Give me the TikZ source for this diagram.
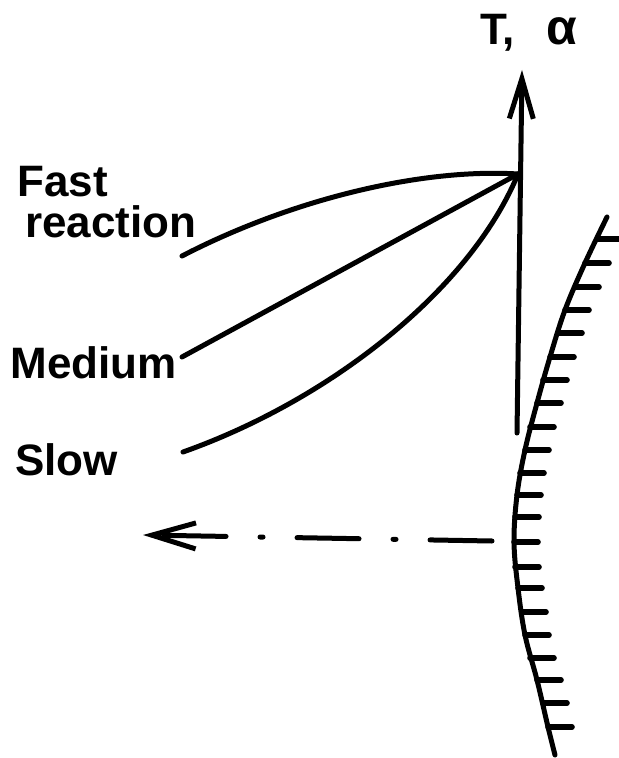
\documentclass[tikz,border=0pt]{standalone}
\usepackage{fontspec}
\setmainfont{Liberation Sans}
\usetikzlibrary{arrows.meta}

\begin{document}
\begin{tikzpicture}[
    x=0.5pt, y=-0.5pt,
    curve/.style={line width=2.5pt, line cap=round},
    lbl/.style={font=\fontsize{22}{20.5}\selectfont\bfseries, inner sep=0pt, anchor=base west, align=left},
    hatch/.style={line width=2.8pt, line cap=round},
    >={Straight Barb[length=20pt, width=12pt]}
]
    \useasboundingbox (0,0) rectangle (618,758);

    % Axis T, alpha
    \coordinate (axbot) at (517,433);
    \coordinate (axtop) at (522,70);
    \draw[curve, ->] (axbot) -- (axtop);
    \node[lbl] (axlbl) at (480,45) {T,\hspace{16pt}{\fontsize{25}{25}\selectfont α}};

    % Meeting point of the three curves
    \coordinate (meet) at (518,174);

    % Labels
    \node[lbl] (lfast) at (17,238) {Fast\\\hspace{4pt}reaction};
    \node[lbl] (lmed) at (10,378) {Medium};
    \node[lbl] (lslow) at (15,475) {Slow};

    % Curve ends
    \coordinate (fast0) at (182,256);
    \coordinate (med0) at (182,357);
    \coordinate (slow0) at (183,452);

    % Curves
    \draw[curve] (fast0) .. controls (290,200) and (420,168) .. (meet);
    \draw[curve] (med0) -- (meet);
    \draw[curve] (slow0) .. controls (330,400) and (470,290) .. (meet);

    % Wall with hatching
    \draw[curve] plot[smooth, tension=0.6] coordinates {(607,217) (585,263) (565,310)
        (550,357) (537,403) (525,450) (517,495) (514,542) (518,588) (525,635)
        (537,680) (548,727) (555,755)};
    \foreach \tx/\ty in {597/239, 585/263, 575/287, 565/310, 558/333, 550/357,
        543/380, 537/403, 530/427, 525/450, 520/473, 517/495, 515/517, 514/542,
        515/567, 518/588, 522/612, 525/635, 530/658, 537/680, 543/703, 548/727} {
        \draw[hatch] (\tx,\ty) -- ++(24,0);
    }

    % Dash-dot arrow from the wall
    \coordinate (beam0) at (492,541);
    \coordinate (beam1) at (143,535);
    \draw[curve, -{Straight Barb[length=22pt, width=13pt]},
        dash pattern=on 31pt off 17pt on 1.5pt off 17pt] (beam0) -- (beam1);
\end{tikzpicture}
\end{document}
